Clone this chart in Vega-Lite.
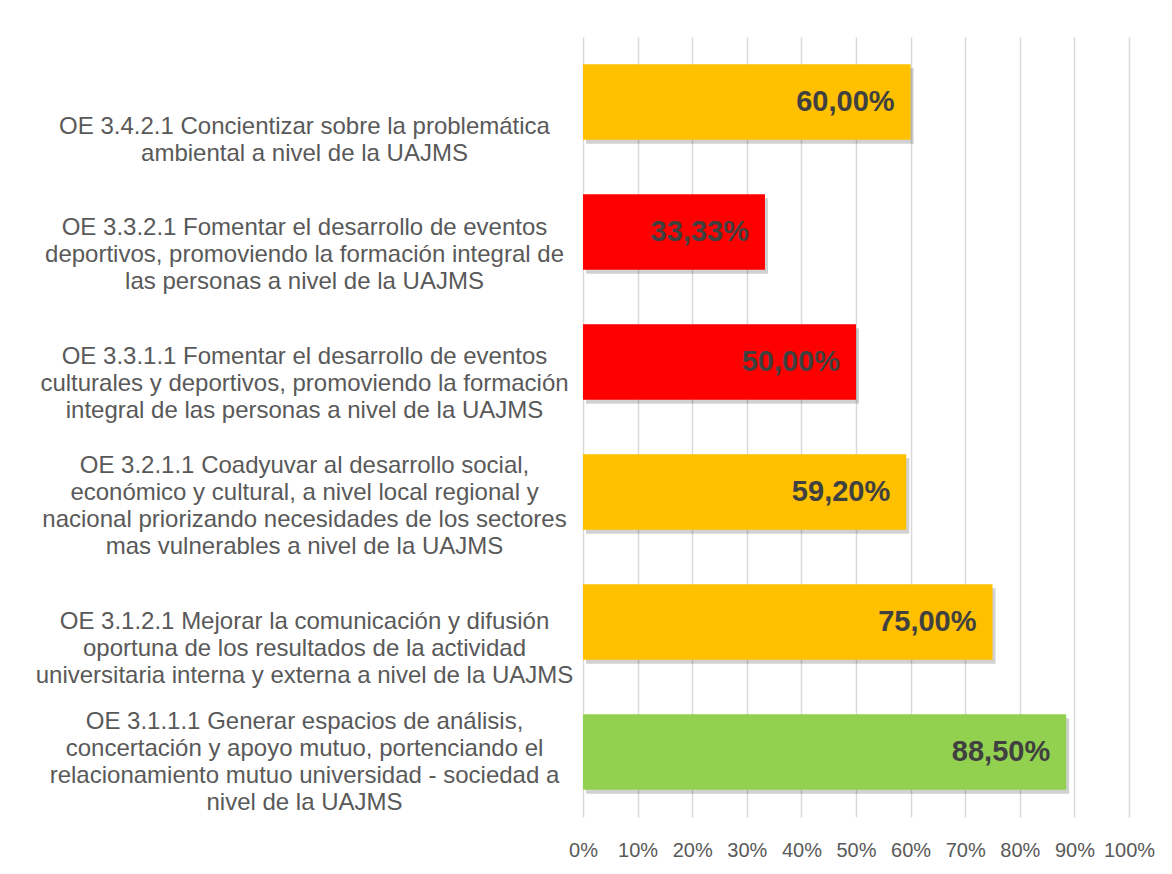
{
  "$schema": "https://vega.github.io/schema/vega-lite/v6.json",
  "width": 546,
  "height": 780,
  "autosize": {"type": "none"},
  "padding": {"left": 583, "top": 37, "right": 43, "bottom": 57},
  "background": "white",
  "config": {
    "locale": {"number": {"decimal": ",", "thousands": ".", "grouping": [3], "currency": ["", " €"]}},
    "view": {"stroke": null},
    "font": "Liberation Sans"
  },
  "data": {
    "values": [
      {"objetivo": "OE 3.4.2.1 Concientizar sobre la problemática|ambiental a nivel de la UAJMS", "avance": 0.60, "nivel": "medio"},
      {"objetivo": "OE 3.3.2.1 Fomentar el desarrollo de eventos|deportivos, promoviendo la formación integral de|las personas a nivel de la UAJMS", "avance": 0.3333, "nivel": "bajo"},
      {"objetivo": "OE 3.3.1.1 Fomentar el desarrollo de eventos|culturales y deportivos, promoviendo la formación|integral de las personas a nivel de la UAJMS", "avance": 0.50, "nivel": "bajo"},
      {"objetivo": "OE 3.2.1.1 Coadyuvar al desarrollo social,|económico y cultural, a nivel local regional y|nacional priorizando necesidades de los sectores|mas vulnerables a nivel de la UAJMS", "avance": 0.592, "nivel": "medio"},
      {"objetivo": "OE 3.1.2.1 Mejorar la comunicación y difusión|oportuna de los resultados de la actividad|universitaria interna y externa a nivel de la UAJMS", "avance": 0.75, "nivel": "medio"},
      {"objetivo": "OE 3.1.1.1 Generar espacios de análisis,|concertación y apoyo mutuo, portenciando el|relacionamiento mutuo universidad - sociedad a|nivel de la UAJMS", "avance": 0.885, "nivel": "alto"}
    ]
  },
  "encoding": {
    "y": {
      "field": "objetivo",
      "type": "nominal",
      "sort": null,
      "scale": {"paddingInner": 0.42, "paddingOuter": 0.21},
      "axis": {
        "title": null,
        "domain": false,
        "ticks": false,
        "grid": false,
        "labelExpr": "split(datum.label, '|')",
        "labelAlign": "center",
        "labelBaseline": "middle",
        "labelPadding": 279,
        "labelLimit": 0,
        "labelFontSize": 24,
        "labelLineHeight": 27,
        "labelColor": "#595959",
        "labelFont": "Liberation Sans",
        "labelOffset": {
          "condition": [
            {"test": "indexof(datum.value, '3.4.2.1') >= 0", "value": 25},
            {"test": "indexof(datum.value, '3.3.2.1') >= 0", "value": -4},
            {"test": "indexof(datum.value, '3.3.1.1') >= 0", "value": -5},
            {"test": "indexof(datum.value, '3.2.1.1') >= 0", "value": -26},
            {"test": "indexof(datum.value, '3.1.1.1') >= 0", "value": -30}
          ],
          "value": 0
        }
      }
    },
    "x": {
      "field": "avance",
      "type": "quantitative",
      "scale": {"domain": [0, 1], "nice": false, "zero": true},
      "axis": {
        "title": null,
        "format": ".0%",
        "values": [0, 0.1, 0.2, 0.3, 0.4, 0.5, 0.6, 0.7, 0.8, 0.9, 1],
        "domain": false,
        "ticks": false,
        "grid": true,
        "gridColor": "#d9d9d9",
        "gridWidth": 1.5,
        "labelPadding": 23,
        "labelFontSize": 20,
        "labelColor": "#595959",
        "labelFont": "Liberation Sans",
        "labelFlush": false
      }
    }
  },
  "layer": [
    {
      "mark": {"type": "bar", "color": "#000000", "opacity": 0.18, "xOffset": 3, "yOffset": 4}
    },
    {
      "mark": {"type": "bar"},
      "encoding": {
        "color": {
          "field": "nivel",
          "type": "nominal",
          "scale": {"domain": ["alto", "medio", "bajo"], "range": ["#92D050", "#FFC000", "#FF0000"]},
          "legend": null
        }
      }
    },
    {
      "mark": {"type": "text", "align": "right", "baseline": "middle", "dx": -16, "fontSize": 29, "fontWeight": "bold", "color": "#404040", "font": "Liberation Sans"},
      "encoding": {
        "text": {"field": "avance", "type": "quantitative", "format": ".2%"}
      }
    }
  ]
}
